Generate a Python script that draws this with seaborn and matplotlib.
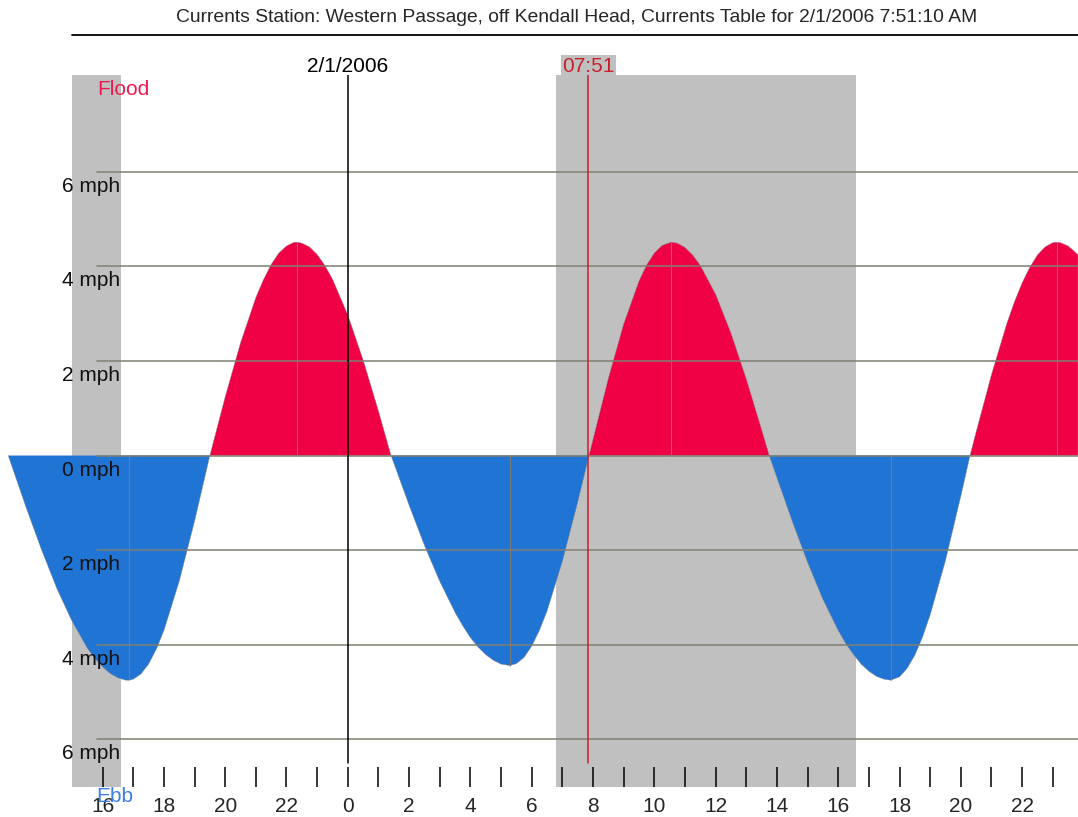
import numpy as np
import seaborn as sns
import matplotlib.pyplot as plt
from matplotlib.lines import Line2D
from matplotlib.ticker import FixedLocator, FuncFormatter

# tidal current, hours from midnight 2/1/2006, mph (flood +, ebb -)
hours = [-11.08, -11.0, -10.5, -10.0, -9.5, -9.0, -8.5, -8.25, -8.0, -7.75,
         -7.5, -7.25, -7.14, -7.0, -6.75, -6.5, -6.25, -6.0, -5.5, -5.0,
         -4.5, -4.0, -3.5, -3.0, -2.75, -2.5, -2.25, -2.0, -1.75, -1.67,
         -1.5, -1.25, -1.0, -0.75, -0.5, 0.0, 0.5, 1.0, 1.41, 1.5,
         2.0, 2.5, 3.0, 3.5, 3.75, 4.0, 4.25, 4.5, 4.75, 5.0,
         5.29, 5.5, 5.75, 6.0, 6.25, 6.5, 7.0, 7.5, 7.87, 8.0,
         8.5, 9.0, 9.5, 9.75, 10.0, 10.25, 10.54, 10.75, 11.0, 11.25,
         11.5, 12.0, 12.5, 13.0, 13.5, 13.75, 14.0, 14.5, 15.0, 15.5,
         16.0, 16.25, 16.5, 16.75, 17.0, 17.25, 17.5, 17.71, 18.0, 18.25,
         18.5, 18.75, 19.0, 19.5, 20.0, 20.3, 20.5, 21.0, 21.5, 21.75,
         22.0, 22.25, 22.5, 22.75, 23.0, 23.13, 23.25, 23.5, 23.75, 23.82]
speed = [0.0, -0.15, -1.09, -1.98, -2.80, -3.50, -4.07, -4.29, -4.47, -4.61,
         -4.70, -4.75, -4.75, -4.73, -4.62, -4.41, -4.10, -3.70, -2.66, -1.39,
         0.0, 1.24, 2.38, 3.34, 3.72, 4.04, 4.28, 4.43, 4.51, 4.51,
         4.49, 4.41, 4.25, 4.02, 3.73, 2.97, 2.02, 0.94, 0.0, -0.16,
         -1.05, -1.90, -2.66, -3.32, -3.60, -3.85, -4.05, -4.21, -4.33, -4.41,
         -4.44, -4.40, -4.27, -4.03, -3.70, -3.29, -2.24, -0.99, 0.0, 0.34,
         1.63, 2.78, 3.69, 4.03, 4.28, 4.44, 4.51, 4.49, 4.40, 4.24,
         4.02, 3.41, 2.59, 1.62, 0.55, 0.0, -0.47, -1.39, -2.26, -3.04,
         -3.70, -3.98, -4.21, -4.41, -4.56, -4.67, -4.73, -4.75, -4.68, -4.50,
         -4.22, -3.84, -3.37, -2.22, -0.86, 0.0, 0.50, 1.71, 2.79, 3.25,
         3.65, 3.98, 4.24, 4.41, 4.50, 4.51, 4.50, 4.43, 4.29, 4.24]

max_hours = [-7.14, -1.67, 5.29, 10.54, 17.71, 23.13]
max_speed = [-4.75, 4.51, -4.44, 4.51, -4.75, 4.51]

day_start = [-9.0, 6.79]
day_end = [-7.40, 16.58]

grid_mph = [-6, -4, -2, 0, 2, 4, 6]
tick_hours = list(range(-8, 24))
label_hours = list(range(-8, 24, 2))
now_hour = 7 + 51 / 60
now_label = "07:51"
date_label = "2/1/2006"
title = ("Currents Station: Western Passage, off Kendall Head, "
         "Currents Table for 2/1/2006 7:51:10 AM")

sns.set_style("white")
plt.rcParams["font.family"] = ["Liberation Sans", "DejaVu Sans"]

FLOOD = "#f00044"
EBB = "#2074d4"
DAY = "#c0c0c0"

fig = plt.figure(figsize=(10.78, 8.17), dpi=100)
ax = fig.add_axes([0, 0.03672, 1, 0.87087])
ax.set_xlim(-11.347, 23.823)
ax.set_ylim(-7.008, 8.034)
for s in ax.spines.values():
    s.set_visible(False)

h = np.array(hours)
v = np.array(speed)

# daylight
for a, b in zip(day_start, day_end):
    ax.axvspan(a, b, color=DAY, lw=0, zorder=0)

ax.fill_between(h, v, 0, where=v >= 0, interpolate=True, color=FLOOD, lw=0, zorder=1)
ax.fill_between(h, v, 0, where=v <= 0, interpolate=True, color=EBB, lw=0, zorder=1)
sns.lineplot(x=hours, y=speed, ax=ax, color="#8a8a8a", linewidth=0.3, zorder=1.5)
ax.set_xlabel("")
ax.set_ylabel("")

# max current markers
ax.vlines(max_hours, 0, max_speed, color="#7a7a7a", lw=0.8, zorder=2)

# mph grid
for g in grid_mph:
    ax.axhline(g, xmin=0.09, xmax=1, color="#7f7f72", lw=1.1, zorder=3)
    ax.annotate(f"{abs(g)} mph", xy=(0.1113, g), xycoords=("axes fraction", "data"),
                xytext=(0, -14.4), textcoords="offset points",
                ha="right", va="baseline", fontsize=15, color="#111111", zorder=5)

# date and current time lines
ax.axvline(0, ymin=0.0337, ymax=1, color="black", lw=1.1, zorder=4)
ax.axvline(now_hour, ymin=0.0337, ymax=1, color="#c8202a", lw=1.1, zorder=4)
ax.annotate(date_label, xy=(0, 1), xycoords=("data", "axes fraction"),
            xytext=(0, 2.7), textcoords="offset points",
            ha="center", va="baseline", fontsize=15, color="black")
ax.annotate(now_label, xy=(now_hour, 1), xycoords=("data", "axes fraction"),
            xytext=(0, 2.7), textcoords="offset points",
            ha="center", va="baseline", fontsize=15, color="#c8202a",
            bbox=dict(boxstyle="square,pad=0.08", fc=DAY, ec="none"))

ax.text(0.0905, 0.9723, "Flood", transform=ax.transAxes, ha="left", va="baseline",
        fontsize=15, color="#ee1a4e", zorder=5)
ax.text(0.0895, -0.0206, "Ebb", transform=ax.transAxes, ha="left", va="baseline",
        fontsize=15, color="#3a80e6", zorder=6, clip_on=False)

# hour ticks
ax.xaxis.set_major_locator(FixedLocator(label_hours))
ax.xaxis.set_minor_locator(FixedLocator([t for t in tick_hours if t not in label_hours]))
ax.xaxis.set_major_formatter(FuncFormatter(lambda x, p: f"{int(round(x)) % 24}"))
ax.tick_params(axis="x", which="both", direction="in", length=14.4, width=1.1,
               color="black", bottom=True, top=False)
ax.tick_params(axis="x", which="major", pad=7.5, labelsize=15)
ax.set_yticks([])

fig.text(0.5348, 1 - 17 / 817, title, ha="center", va="center", fontsize=13.9)
fig.add_artist(Line2D([0.0668, 1], [1 - 35 / 817] * 2, transform=fig.transFigure,
                      color="black", lw=1.3))

fig.savefig("out.png", dpi=100)
